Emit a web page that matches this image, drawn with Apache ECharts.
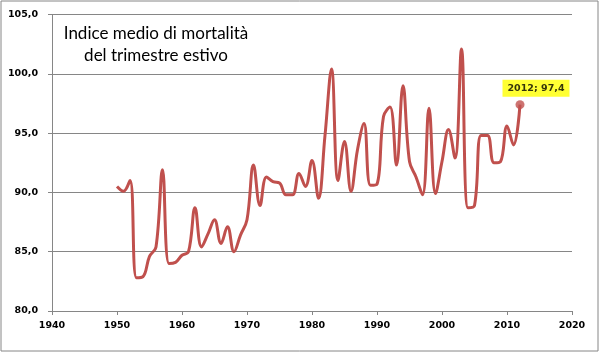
<!DOCTYPE html>
<html>
<head>
<meta charset="utf-8">
<script src="https://cdn.jsdelivr.net/npm/echarts@6/dist/echarts.min.js"></script>
<style>
  html, body { margin: 0; padding: 0; background: #fff; }
  #chart { width: 600px; height: 353px; }
</style>
</head>
<body>
<div id="chart"></div>
<script>
// anni e indice medio di mortalità
var years = [1950, 1951, 1952, 1953, 1954, 1955, 1956, 1957, 1958, 1959,
  1960, 1961, 1962, 1963, 1964, 1965, 1966, 1967, 1968, 1969,
  1970, 1971, 1972, 1973, 1974, 1975, 1976, 1977, 1978, 1979,
  1980, 1981, 1982, 1983, 1984, 1985, 1986, 1987, 1988, 1989,
  1990, 1991, 1992, 1993, 1994, 1995, 1996, 1997, 1998, 1999,
  2000, 2001, 2002, 2003, 2004, 2005, 2006, 2007, 2008, 2009,
  2010, 2011, 2012];
var values = [90.5, 90.1, 91.0, 82.8, 82.9, 84.6, 85.4, 91.9, 84.0, 84.1,
  84.7, 85.0, 88.7, 85.4, 86.5, 87.7, 85.7, 87.1, 85.0, 86.4,
  87.7, 92.3, 88.9, 91.3, 90.9, 90.8, 89.8, 89.8, 91.6, 90.5,
  92.7, 89.5, 94.8, 100.4, 91.0, 94.3, 90.1, 93.6, 95.8, 90.6,
  90.7, 96.4, 97.2, 92.3, 99.0, 92.6, 91.3, 89.8, 97.1, 89.9,
  92.6, 95.3, 92.9, 102.1, 88.7, 88.9, 94.8, 94.8, 92.5, 92.6,
  95.6, 94.0, 97.4];
var titleLines = ['Indice medio di mortalità', 'del trimestre estivo'];
var lastYear = years[years.length - 1];
var lastValue = values[values.length - 1];

var lineColor = '#c0504d';
var axisGray = '#868686';
var labelFont = 'DejaVu Sans';

var seriesData = [];
for (var i = 0; i < years.length; i++) {
  seriesData.push([years[i], values[i]]);
}

function fmtComma(v, dec) {
  return v.toFixed(dec).replace('.', ',');
}

var myChart = echarts.init(document.getElementById('chart'));
var option = {
  backgroundColor: '#fff',
  animation: false,
  title: {
    text: titleLines.join('\n'),
    left: 151,
    top: 18,
    textAlign: 'center',
    textStyle: {
      fontFamily: 'Lato',
      fontSize: 17,
      fontWeight: 'normal',
      color: '#000',
      lineHeight: 22
    }
  },
  graphic: [{
    type: 'rect',
    shape: { x: 1, y: 1, width: 597, height: 350 },
    style: { fill: 'none', stroke: axisGray, lineWidth: 1 },
    silent: true
  }],
  grid: {
    left: 52,
    right: 28,
    top: 14.5,
    bottom: 42
  },
  xAxis: {
    type: 'value',
    min: 1940,
    max: 2020,
    interval: 10,
    axisLine: { show: true, onZero: false, lineStyle: { color: axisGray, width: 1 } },
    axisTick: { show: true, length: 4, inside: false, lineStyle: { color: axisGray } },
    splitLine: { show: false },
    axisLabel: {
      margin: 10,
      fontFamily: labelFont,
      fontSize: 9.5,
      fontWeight: 'bold',
      color: '#000',
      formatter: function(v) { return String(v); }
    }
  },
  yAxis: {
    type: 'value',
    min: 80,
    max: 105,
    interval: 5,
    axisLine: { show: true, lineStyle: { color: axisGray, width: 1 } },
    axisTick: { show: true, length: 4, lineStyle: { color: axisGray } },
    splitLine: { show: true, lineStyle: { color: axisGray, width: 1 } },
    axisLabel: {
      margin: 14,
      fontFamily: labelFont,
      fontSize: 9.5,
      fontWeight: 'bold',
      color: '#000',
      formatter: function(v) { return fmtComma(v, 1); }
    }
  },
  series: [{
    name: 'indice',
    type: 'line',
    data: seriesData,
    smooth: 0.4,
    showSymbol: false,
    lineStyle: { color: lineColor, width: 3 },
    z: 3
  }, {
    name: 'ultimo',
    type: 'scatter',
    data: [[lastYear, lastValue]],
    symbol: 'circle',
    symbolSize: 9,
    itemStyle: { color: lineColor },
    z: 4,
    label: {
      show: true,
      position: 'top',
      distance: 5,
      offset: [16, 1.5],
      formatter: function() { return lastYear + '; ' + fmtComma(lastValue, 1); },
      backgroundColor: '#ffff00',
      padding: [4, 5, 3, 5],
      fontFamily: labelFont,
      fontSize: 9.5,
      fontWeight: 'bold',
      color: '#000'
    }
  }]
};
myChart.setOption(option);
</script>
</body>
</html>
